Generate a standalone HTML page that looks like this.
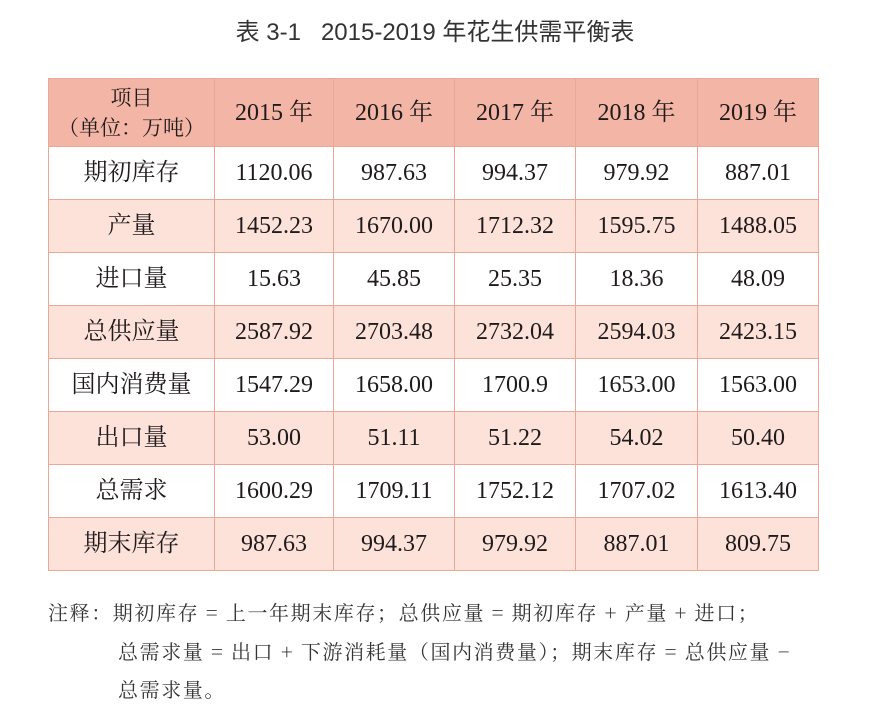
<!DOCTYPE html>
<html><head><meta charset="utf-8"><style>
body{margin:0;width:870px;height:708px;background:#fff;position:relative;overflow:hidden;font-family:"Liberation Serif","Noto Serif CJK SC",serif;color:#1f1a1c}
.t{position:absolute;left:0;width:870px;top:12px;text-align:center;font-family:"Liberation Sans","Noto Sans CJK SC",sans-serif;font-size:24px;color:#333}
table{position:absolute;left:48px;top:78px;border-collapse:collapse;width:770px;table-layout:fixed}
td{border:1.5px solid #eba898;text-align:center;font-size:24px;height:53px;padding:0;box-sizing:border-box;line-height:24px;vertical-align:middle}
td span{display:inline-block;line-height:24px;vertical-align:middle}
tr.h td{background:#f3b5a5;height:68px}
tr.p td{background:#fde2da}
.note{position:absolute;left:48px;font-size:20px;font-family:"Noto Serif CJK SC",serif;color:#333;white-space:nowrap;letter-spacing:1.6px}
</style></head><body>
<div class="t">表 3-1&nbsp;&nbsp; 2015-2019 年花生供需平衡表</div>
<table>
<colgroup><col style="width:166px"><col style="width:119px"><col style="width:121px"><col style="width:121px"><col style="width:122px"><col style="width:121px"></colgroup>
<tr class="h"><td style="font-size:21px;line-height:30px">项目<br>（单位：万吨）</td><td>2015 年</td><td>2016 年</td><td>2017 年</td><td>2018 年</td><td>2019 年</td></tr>
<tr><td>期初库存</td><td>1120.06</td><td>987.63</td><td>994.37</td><td>979.92</td><td>887.01</td></tr>
<tr class="p"><td>产量</td><td>1452.23</td><td>1670.00</td><td>1712.32</td><td>1595.75</td><td>1488.05</td></tr>
<tr><td>进口量</td><td>15.63</td><td>45.85</td><td>25.35</td><td>18.36</td><td>48.09</td></tr>
<tr class="p"><td>总供应量</td><td>2587.92</td><td>2703.48</td><td>2732.04</td><td>2594.03</td><td>2423.15</td></tr>
<tr><td>国内消费量</td><td>1547.29</td><td>1658.00</td><td>1700.9</td><td>1653.00</td><td>1563.00</td></tr>
<tr class="p"><td>出口量</td><td>53.00</td><td>51.11</td><td>51.22</td><td>54.02</td><td>50.40</td></tr>
<tr><td>总需求</td><td>1600.29</td><td>1709.11</td><td>1752.12</td><td>1707.02</td><td>1613.40</td></tr>
<tr class="p"><td>期末库存</td><td>987.63</td><td>994.37</td><td>979.92</td><td>887.01</td><td>809.75</td></tr>
</table>
<div class="note" style="top:597px">注释：期初库存 = 上一年期末库存；总供应量 = 期初库存 + 产量 + 进口；</div>
<div class="note" style="top:636px;left:118px">总需求量 = 出口 + 下游消耗量（国内消费量）；期末库存 = 总供应量 −</div>
<div class="note" style="top:674px;left:118px">总需求量。</div>
</body></html>
